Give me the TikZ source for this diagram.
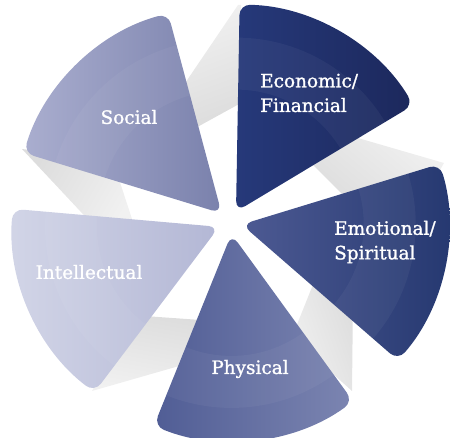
\documentclass[tikz,border=0pt]{standalone}
\usepackage{fontspec}
\setmainfont{DejaVu Serif}
\newfontfamily\petalfont[FakeBold=1.2]{DejaVu Serif}

\definecolor{econL}{HTML}{26397A}
\definecolor{econR}{HTML}{1C285C}
\definecolor{emotL}{HTML}{4D5A93}
\definecolor{emotR}{HTML}{24376F}
\definecolor{physL}{HTML}{505D95}
\definecolor{physR}{HTML}{7C85B1}
\definecolor{intelL}{HTML}{D2D5E7}
\definecolor{intelR}{HTML}{B3B7D5}
\definecolor{socL}{HTML}{AAAECF}
\definecolor{socR}{HTML}{7A81AC}

% one petal of the wheel, tip pushed 12 units out along its middle angle
\newcommand\petal[1]{(#1:12) -- ++(#1-29:207)
  arc[start angle=#1-29, end angle=#1+29, radius=207] -- cycle}

\begin{document}
\begin{tikzpicture}[x=0.02cm, y=0.02cm,
  ribbon/.style={top color=gray!11, bottom color=gray!27, shading angle=#1},
  ribbon/.default=0,
  petaltext/.style={text=white, font=\petalfont\fontsize{10.5}{14}\selectfont, align=left}]
  \useasboundingbox (0,0) rectangle (450,437);

  % folded grey bands behind the petals
  \path[ribbon=20]   (238,432) -- (175,339) -- (190,306) -- (241,334) -- (241,432) -- cycle;
  \path[ribbon=-40]  (444,274) -- (320,310) -- (300,285) -- (355,230) -- (435,258) -- cycle;
  \path[ribbon=110]  (352,46) -- (353,140) -- (318,165) -- (292,100) -- cycle;
  \path[ribbon=170]  (92,46) -- (130,122) -- (215,116) -- (200,77) -- cycle;
  \path[ribbon=240]  (22,288) -- (113,276) -- (135,209) -- (95,210) -- cycle;

  % the five petals
  \begin{scope}[shift={(230,215)}]
    \foreach \a/\lc/\rc in {60/econL/econR, -12/emotL/emotR, -83/physL/physR,
                            -156/intelL/intelR, 134/socL/socR}{
      \path[left color=\lc, right color=\rc, rounded corners=6] \petal{\a};
      \begin{scope}
        \clip[rounded corners=6] \petal{\a};
        \fill[white, opacity=.045, even odd rule]
          (\a:12) circle[radius=174] (\a:12) circle[radius=122];
      \end{scope}
    }
  \end{scope}

  \node[petaltext, anchor=west] (econ)  at (254,344) {Economic/\\Financial};
  \node[petaltext, anchor=west] (emot)  at (328,195) {Emotional/\\Spiritual};
  \node[petaltext] (phys)  at (250,68)  {Physical};
  \node[petaltext] (intel) at (89,165)  {Intellectual};
  \node[petaltext] (soc)   at (129,320) {Social};
\end{tikzpicture}
\end{document}
